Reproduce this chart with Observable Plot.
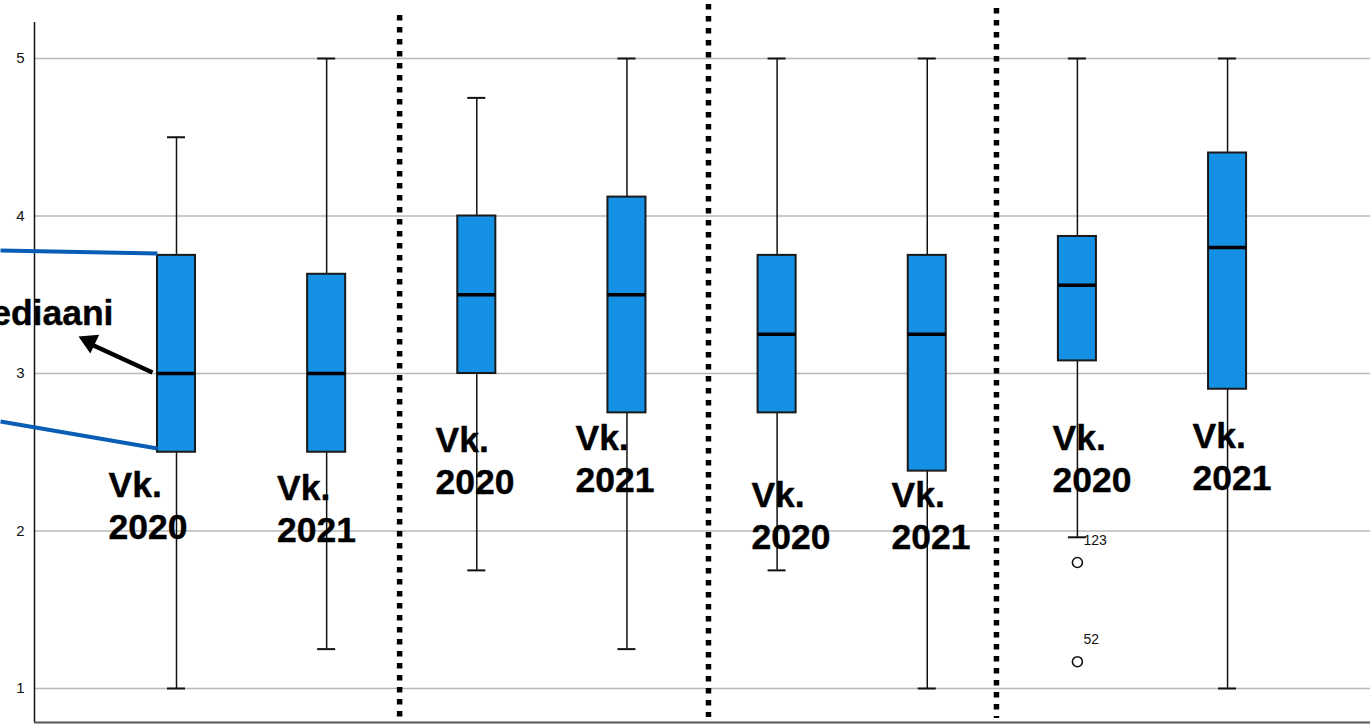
<!DOCTYPE html>
<html>
<head>
<meta charset="utf-8">
<script src="https://cdn.jsdelivr.net/npm/d3@7"></script>
<script src="https://cdn.jsdelivr.net/npm/@observablehq/plot@0.6"></script>
<style>
  html, body { margin: 0; padding: 0; background: #fff; }
  #chart svg { display: block; overflow: visible; }
</style>
</head>
<body>
<div id="chart"></div>
<script>
// ---- data ----
const groups      = ["Vk. 2020", "Vk. 2021", "Vk. 2020", "Vk. 2021", "Vk. 2020", "Vk. 2021", "Vk. 2020", "Vk. 2021"];
const whiskerLow  = [1.00, 1.25, 1.75, 1.25, 1.75, 1.00, 1.96, 1.00];
const q1          = [2.50, 2.50, 3.00, 2.75, 2.75, 2.38, 3.08, 2.90];
const median      = [3.00, 3.00, 3.50, 3.50, 3.25, 3.25, 3.56, 3.80];
const q3          = [3.75, 3.63, 4.00, 4.12, 3.75, 3.75, 3.87, 4.40];
const whiskerHigh = [4.50, 5.00, 4.75, 5.00, 5.00, 5.00, 5.00, 5.00];
const outlierGroup = [6, 6];
const outlierValue = [1.80, 1.17];
const outlierId    = ["123", "52"];
const yTicks = [1, 2, 3, 4, 5];

// annotation anchors (in data units)
const labelX = [-0.453, 0.670, 1.725, 2.657, 3.829, 4.762, 5.834, 6.767];
const labelY = [2.371, 2.352, 2.657, 2.670, 2.308, 2.308, 2.670, 2.683];
const separatorX   = [1.486, 3.543, 5.461];
const separatorTop = [5.273, 5.343, 5.317];
const separatorBot = [0.816, 0.816, 0.810];

// ---- build tables ----
const boxes = groups.map((g, i) => ({
  i, g, lo: whiskerLow[i], q1: q1[i], med: median[i], q3: q3[i], hi: whiskerHigh[i],
  lx: labelX[i], ly: labelY[i], label: g.replace(" ", "\n")
}));
const outliers = outlierValue.map((v, k) => ({i: outlierGroup[k], v, id: outlierId[k]}));
const seps = separatorX.map((x, k) => ({x, top: separatorTop[k], bot: separatorBot[k]}));

const X_DOMAIN = [-0.9457, 7.952];
const Y_DOMAIN = [0.7841, 5.2286];
const HB = 0.1267;  // half box width (x units)
const HC = 0.06;    // half cap width
const FONT = "'Liberation Sans', Arial, Helvetica, sans-serif";

const chart = Plot.plot({
  width: 1370,
  height: 724,
  marginLeft: 34,
  marginRight: 0,
  marginTop: 22,
  marginBottom: 2,
  style: {fontFamily: FONT, background: "white", overflow: "visible"},
  x: {type: "linear", domain: X_DOMAIN, axis: null},
  y: {type: "linear", domain: Y_DOMAIN},
  marks: [
    Plot.gridY(yTicks, {stroke: "#b8b8b8", strokeOpacity: 1, strokeWidth: 1.5}),
    Plot.axisY(yTicks, {tickSize: 0, tickPadding: 10, fontSize: 15, fill: "#111", tickFormat: d => String(d)}),
    // axis lines
    Plot.ruleX([X_DOMAIN[0]], {y1: Y_DOMAIN[0], y2: Y_DOMAIN[1], stroke: "#111", strokeWidth: 1.5}),
    Plot.ruleY([Y_DOMAIN[0]], {x1: X_DOMAIN[0], x2: X_DOMAIN[1], stroke: "#555", strokeWidth: 2}),
    // whiskers
    Plot.ruleX(boxes, {x: "i", y1: "lo", y2: "q1", stroke: "#111", strokeWidth: 1.5}),
    Plot.ruleX(boxes, {x: "i", y1: "q3", y2: "hi", stroke: "#111", strokeWidth: 1.5}),
    Plot.ruleY(boxes, {y: "lo", x1: d => d.i - HC, x2: d => d.i + HC, stroke: "#111", strokeWidth: 2}),
    Plot.ruleY(boxes, {y: "hi", x1: d => d.i - HC, x2: d => d.i + HC, stroke: "#111", strokeWidth: 2}),
    // boxes
    Plot.rect(boxes, {x1: d => d.i - HB, x2: d => d.i + HB, y1: "q1", y2: "q3", fill: "#1490E4", stroke: "#1a1a1a", strokeWidth: 2}),
    Plot.ruleY(boxes, {y: "med", x1: d => d.i - HB, x2: d => d.i + HB, stroke: "#000", strokeWidth: 3.5}),
    // outliers
    Plot.dot(outliers, {x: "i", y: "v", r: 5, stroke: "#111", strokeWidth: 1.6, fill: "white"}),
    Plot.text(outliers, {x: "i", y: "v", text: "id", dx: 6, dy: -22, textAnchor: "start", fontSize: 14, fill: "#111"}),
    // separators
    Plot.ruleX(seps, {x: "x", y1: "top", y2: "bot", stroke: "#000", strokeWidth: 5.5, strokeDasharray: "5.5,6.5"}),
    // group labels
    Plot.text(boxes, {x: "lx", y: "ly", text: "label", textAnchor: "start", lineAnchor: "top", lineHeight: 1.2,
      dy: -6, fontSize: 35.5, fontWeight: "bold", fill: "#000", stroke: "#000", strokeWidth: 0.4}),
    // median annotation
    Plot.link([{x1: -1.172, y1: 3.781, x2: -0.1265, y2: 3.762}, {x1: -1.172, y1: 2.695, x2: -0.1265, y2: 2.524}],
      {x1: "x1", y1: "y1", x2: "x2", y2: "y2", stroke: "#0A5DB5", strokeWidth: 4}),
    Plot.link([{x1: -0.16, y1: 3.006, x2: -0.5594, y2: 3.181}],
      {x1: "x1", y1: "y1", x2: "x2", y2: "y2", stroke: "#000", strokeWidth: 4.5}),
    Plot.dot([{x: -0.5805, y: 3.2025}], {x: "x", y: "y", symbol: "triangle", r: 7.7, rotate: -64.7, fill: "#000", stroke: "none"}),
    Plot.text([{x: -0.4196, y: 3.305, t: "Mediaani"}], {x: "x", y: "y", text: "t", textAnchor: "end", lineAnchor: "bottom",
      fontSize: 35.5, fontWeight: "bold", fill: "#000", stroke: "#000", strokeWidth: 0.4})
  ]
});
document.getElementById("chart").appendChild(chart);
</script>
</body>
</html>
